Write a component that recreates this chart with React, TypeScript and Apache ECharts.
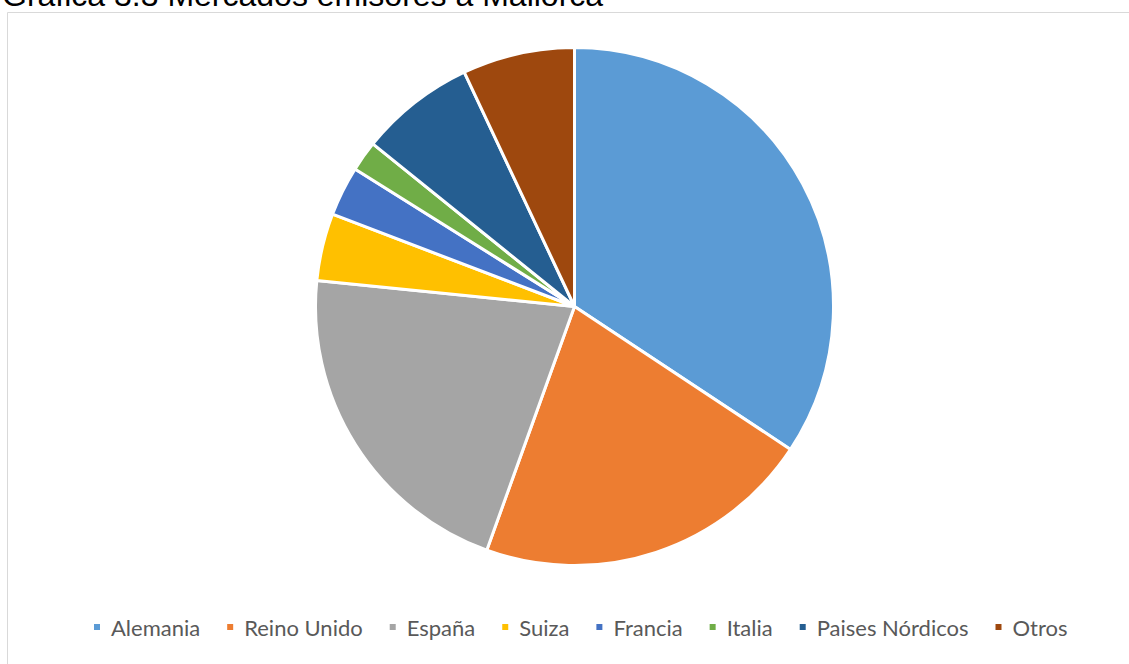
import React, { useEffect, useRef } from "react";
import * as echarts from "echarts";

const categories = ["Alemania", "Reino Unido", "España", "Suiza", "Francia", "Italia", "Paises Nórdicos", "Otros"];
const values = [34.3, 21.2, 21.1, 4.2, 3.1, 1.9, 7.2, 7.0];
const colors = ["#5B9BD5", "#ED7D31", "#A5A5A5", "#FFC000", "#4472C4", "#70AD47", "#255E91", "#9E480E"];
const titleText = "Gráfica 3.3 Mercados emisores a Mallorca";

export default function App() {
  const ref = useRef<HTMLDivElement>(null);
  useEffect(() => {
    const chart = echarts.init(ref.current!, null, { renderer: "svg" });
    chart.setOption({
      animation: false,
      color: colors,
      graphic: [
        {
          type: "rect",
          shape: { x: 7.5, y: 12.5, width: 1130, height: 660 },
          style: { fill: "none", stroke: "#d9d9d9", lineWidth: 1 },
          silent: true,
        },
        {
          type: "text",
          x: 2,
          y: -21,
          style: {
            text: titleText,
            font: "32px 'Liberation Sans', Arial, sans-serif",
            fill: "#000000",
          },
          silent: true,
        },
      ],
      legend: {
        top: 616,
        left: 92,
        icon: "rect",
        itemWidth: 8,
        itemHeight: 8,
        itemGap: 25,
        padding: 0,
        textStyle: { color: "#595959", fontSize: 22, fontFamily: "Lato, sans-serif", padding: [0, 0, 0, 5] },
        data: categories,
      },
      series: [
        {
          type: "pie",
          center: [574.5, 306.5],
          radius: 259,
          startAngle: 90,
          clockwise: true,
          label: { show: false },
          labelLine: { show: false },
          itemStyle: { borderColor: "#ffffff", borderWidth: 3 },
          data: categories.map((c, i) => ({ name: c, value: values[i] })),
        },
      ],
    });
    return () => chart.dispose();
  }, []);
  return (
    <div
      ref={ref}
      style={{ position: "fixed", left: 0, top: 0, width: 1129, height: 664, background: "#fff" }}
    />
  );
}
